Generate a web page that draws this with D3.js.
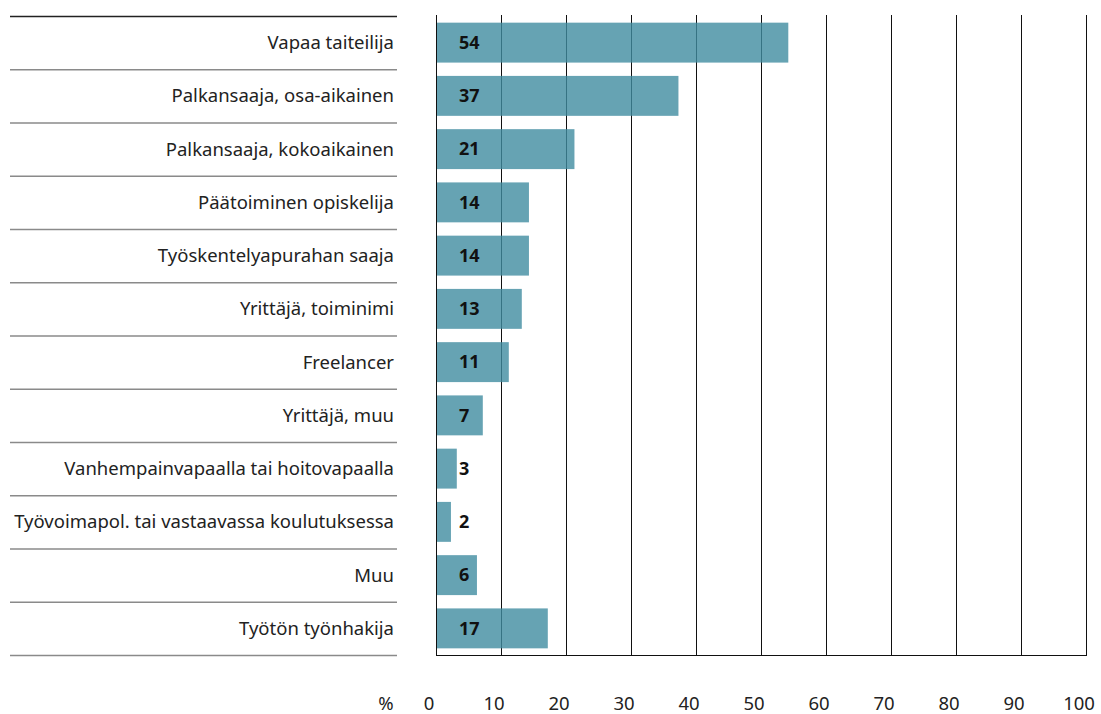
<!DOCTYPE html>
<html><head><meta charset="utf-8">
<script src="https://cdn.jsdelivr.net/npm/d3@7"></script>
<style>body{margin:0;background:#fff}svg{display:block;font-family:"Noto Sans",sans-serif}</style>
</head><body><svg id="c" width="1101" height="714"></svg>
<script>
const categories = ["Vapaa taiteilija","Palkansaaja, osa-aikainen","Palkansaaja, kokoaikainen","Päätoiminen opiskelija","Työskentelyapurahan saaja","Yrittäjä, toiminimi","Freelancer","Yrittäjä, muu","Vanhempainvapaalla tai hoitovapaalla","Työvoimapol. tai vastaavassa koulutuksessa","Muu","Työtön työnhakija"];
const values = [54.2,37.3,21.3,14.3,14.3,13.2,11.2,7.2,3.2,2.3,6.3,17.2];
const valueLabels = ["54","37","21","14","14","13","11","7","3","2","6","17"];
const ticks = [0,10,20,30,40,50,60,70,80,90,100];

const svg = d3.select("#c");
const x = d3.scaleLinear().domain([0,100]).range([436,1086]);
const y = d3.scaleBand().domain(categories).range([16,655]).paddingInner(0.25).paddingOuter(0.125);
const step = y.step();

// row separators
svg.append("g").selectAll("line").data(d3.range(categories.length+1)).join("line")
  .attr("x1",10).attr("x2",397)
  .attr("y1",i=>16+i*step+0.5).attr("y2",i=>16+i*step+0.5)
  .attr("stroke",i=>i===0?"#222":"#8a8a8a").attr("stroke-width",1.3);

// gridlines
svg.append("g").selectAll("line").data(ticks).join("line")
  .attr("x1",d=>Math.round(x(d))+0.5).attr("x2",d=>Math.round(x(d))+0.5)
  .attr("y1",15).attr("y2",655).attr("stroke","#111").attr("stroke-width",1);
svg.append("line").attr("x1",x(0)).attr("x2",x(100)+1).attr("y1",655.5).attr("y2",655.5).attr("stroke","#111");

// bars
svg.append("g").selectAll("rect").data(values).join("rect")
  .attr("x",x(0)+1).attr("y",(d,i)=>y(categories[i]))
  .attr("width",d=>x(d)-x(0)-1).attr("height",y.bandwidth())
  .attr("fill","#408ca0").attr("fill-opacity",0.8);

// value labels
svg.append("g").selectAll("text").data(valueLabels).join("text")
  .attr("x",459).attr("y",(d,i)=>y(categories[i])+y.bandwidth()/2)
  .attr("dy","0.35em").attr("font-weight","bold").attr("font-size",18).attr("fill","#111")
  .text(d=>d);

// category labels
svg.append("g").selectAll("text").data(categories).join("text")
  .attr("x",394).attr("y",d=>y(d)+y.bandwidth()/2)
  .attr("dy","0.35em").attr("text-anchor","end").attr("font-size",18.5).attr("fill","#222")
  .text(d=>d);

// axis tick labels
svg.append("g").selectAll("text").data(ticks).join("text")
  .attr("x",d=>x(d)-7).attr("y",704).attr("dy","0.35em").attr("text-anchor","middle")
  .attr("font-size",18.5).attr("fill","#222").text(d=>d);
svg.append("text").attr("x",386).attr("y",704).attr("dy","0.35em").attr("text-anchor","middle")
  .attr("font-size",18.5).attr("fill","#222").text("%");
</script></body></html>
